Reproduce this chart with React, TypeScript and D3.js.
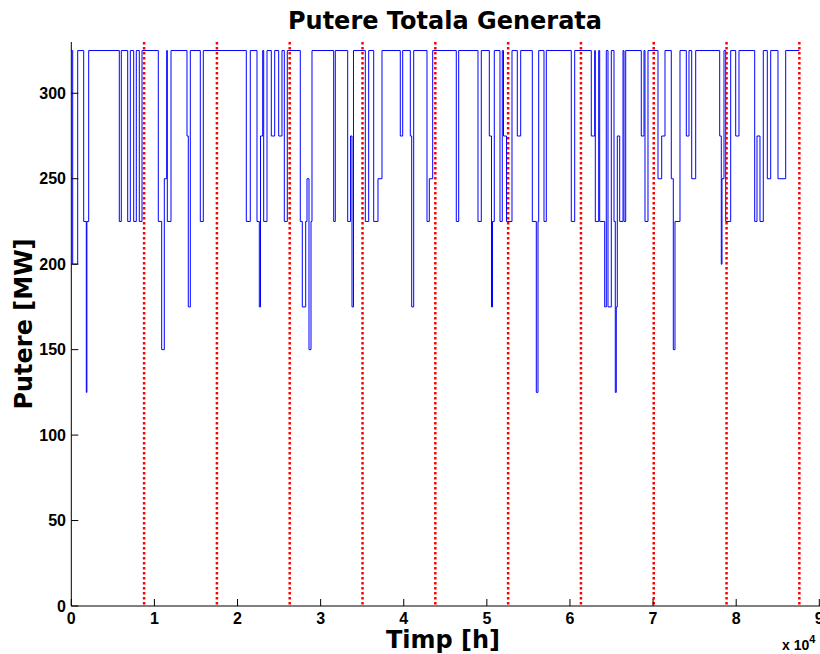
import React from "react";
import * as d3 from "d3";

// Step data: [start hour, end hour, power MW]; outside these spans power = 325 MW
const baseLevel = 325;
const endHour = 87600;
const dips: [number, number, number][] = [
  [168, 770, 200],
  [1492, 1805, 225], [1805, 1877, 125], [1877, 2094, 225],
  [5775, 6016, 225],
  [6786, 7099, 225],
  [7508, 7821, 225],
  [8182, 8507, 225],
  [10468, 10877, 225], [10877, 11190, 150], [11190, 11479, 250],
  [11551, 11996, 225],
  [13921, 14077, 275], [14077, 14318, 175],
  [15521, 15882, 225],
  [21056, 21537, 225],
  [22343, 22620, 225], [22620, 22765, 175], [22765, 23029, 275],
  [23149, 23547, 225],
  [24064, 24473, 275],
  [24954, 25351, 275],
  [25628, 25989, 225],
  [27553, 27794, 225], [27794, 28203, 175], [28203, 28359, 225], [28359, 28600, 250], [28600, 28841, 150], [28841, 28961, 225],
  [31572, 31764, 225],
  [33256, 33593, 225], [33593, 33774, 275], [33774, 33954, 175],
  [35374, 35783, 225],
  [36385, 36902, 225], [36902, 37383, 250],
  [39585, 39874, 275],
  [40789, 40957, 275], [40957, 41198, 175],
  [42798, 43075, 225], [43075, 43484, 250],
  [46323, 46612, 225],
  [48934, 49331, 225],
  [50294, 50558, 275], [50558, 50679, 175], [50679, 50895, 225],
  [51581, 51857, 225],
  [52002, 52363, 275], [52363, 53025, 225],
  [53663, 54072, 275],
  [55468, 55949, 225], [55949, 56153, 125], [56153, 56238, 225],
  [56875, 57152, 225],
  [60160, 60569, 225],
  [62566, 62975, 275],
  [63048, 63457, 225],
  [63577, 64179, 225], [64179, 64371, 175],
  [64576, 64973, 175],
  [65297, 65454, 225], [65454, 65574, 125], [65574, 65695, 175], [65695, 65984, 275], [65984, 66381, 225],
  [66500, 66705, 225],
  [68582, 68907, 275],
  [69027, 69388, 225],
  [70591, 71036, 250], [71036, 71433, 275],
  [72192, 72433, 250], [72433, 72637, 150], [72637, 73239, 225],
  [73997, 74322, 275],
  [74646, 75127, 250],
  [78015, 78208, 275], [78208, 78292, 200], [78292, 78533, 250],
  [78737, 79339, 225],
  [79940, 80338, 275],
  [82227, 82503, 225], [82503, 82864, 275], [82864, 83261, 225],
  [83743, 84152, 250],
  [85030, 85957, 250],
];

const yearMarks = [8760, 17520, 26280, 35040, 43800, 52560, 61320, 70080, 78840, 87600];
const xTicks = [0, 10000, 20000, 30000, 40000, 50000, 60000, 70000, 80000, 90000];
const xTickLabels = ["0", "1", "2", "3", "4", "5", "6", "7", "8", "9"];
const yTicks = [0, 50, 100, 150, 200, 250, 300];

const W = 820;
const H = 654;
const L = 71.3;
const R = 819.3;
const T = 42;
const B = 606;

export default function App() {
  const x = d3.scaleLinear().domain([0, 90000]).range([L, R]);
  const y = d3.scaleLinear().domain([0, 330]).range([B, T]);

  const pts: [number, number][] = [[0, baseLevel]];
  dips.forEach((d, i) => {
    pts.push([d[0], d[2]]);
    const next = dips[i + 1];
    if (!next || next[0] !== d[1]) pts.push([d[1], baseLevel]);
  });
  pts.push([endHour, baseLevel]);

  const line = d3
    .line<[number, number]>()
    .x((d) => x(d[0]))
    .y((d) => y(d[1]))
    .curve(d3.curveStepAfter);

  const tickFont = "'Liberation Sans', Arial, sans-serif";
  const labelFont = "'DejaVu Sans', sans-serif";

  return (
    <svg
      width={W}
      height={H}
      style={{ position: "absolute", left: 0, top: 0, background: "#fff" }}
    >
      <rect x={0} y={0} width={W} height={H} fill="#fff" />
      <path d={line(pts) || ""} fill="none" stroke="#0000ff" strokeWidth={1} />
      {yearMarks.map((m) => (
        <line
          key={m}
          x1={x(m)}
          x2={x(m)}
          y1={T}
          y2={B}
          stroke="#ff0000"
          strokeWidth={2.5}
          strokeDasharray="2.5 2.5"
        />
      ))}
      {/* axes */}
      <line x1={L} x2={L} y1={T} y2={B} stroke="#000" strokeWidth={1} />
      <line x1={L} x2={W} y1={B} y2={B} stroke="#000" strokeWidth={1} />
      {yTicks.map((t) => (
        <g key={t}>
          <line x1={L} x2={L + 7} y1={y(t)} y2={y(t)} stroke="#000" />
          <text
            x={66}
            y={y(t) + 5.5}
            textAnchor="end"
            fontFamily={tickFont}
            fontWeight="bold"
            fontSize={16}
          >
            {t}
          </text>
        </g>
      ))}
      {xTicks.map((t, i) => (
        <g key={t}>
          <line x1={x(t)} x2={x(t)} y1={B} y2={B - 7} stroke="#000" />
          <text
            x={x(t)}
            y={624}
            textAnchor="middle"
            fontFamily={tickFont}
            fontWeight="bold"
            fontSize={16}
          >
            {xTickLabels[i]}
          </text>
        </g>
      ))}
      <text x={782} y={650} fontFamily={tickFont} fontWeight="bold" fontSize={14}>
        x 10
        <tspan dy={-7} fontSize={11}>4</tspan>
      </text>
      <text
        x={445}
        y={29}
        textAnchor="middle"
        fontFamily={labelFont}
        fontWeight="bold"
        fontSize={24}
      >
        Putere Totala Generata
      </text>
      <text
        x={443}
        y={648}
        textAnchor="middle"
        fontFamily={labelFont}
        fontWeight="bold"
        fontSize={24}
      >
        Timp [h]
      </text>
      <text
        transform={`translate(32, ${(T + B) / 2}) rotate(-90)`}
        textAnchor="middle"
        fontFamily={labelFont}
        fontWeight="bold"
        fontSize={24}
      >
        Putere [MW]
      </text>
    </svg>
  );
}
